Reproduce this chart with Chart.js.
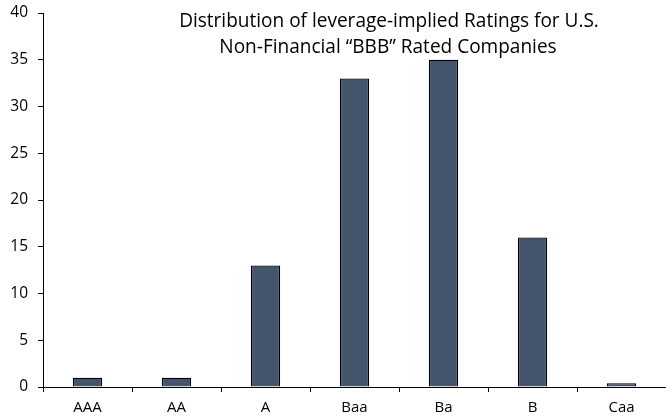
<!DOCTYPE html>
<html>
<head>
<meta charset="utf-8">
<script src="https://cdn.jsdelivr.net/npm/chart.js@4/dist/chart.umd.min.js"></script>
<style>
  html, body { margin: 0; padding: 0; background: #fff; }
  #wrap { position: relative; width: 666px; height: 420px; }
</style>
</head>
<body>
<div id="wrap"><canvas id="ratings"></canvas></div>
<script>
/**
 * Data
 */
const ratings = ['AAA', 'AA', 'A', 'Baa', 'Ba', 'B', 'Caa'];
const companyCounts = [1, 1, 13, 33, 35, 16, 0.4];
const titleLines = [
  'Distribution of leverage-implied Ratings for U.S.',
  'Non-Financial \u201cBBB\u201d Rated Companies',
];

const fontFamily = '"Open Sans", sans-serif';

/**
 * Title drawn inside the plot area
 */
const innerTitle = {
  id: 'innerTitle',
  afterDraw(chart) {
    const ctx = chart.ctx;
    ctx.save();
    // Size the title so the first line spans about 420px
    ctx.font = '20px ' + fontFamily;
    const size = (20 * 420) / ctx.measureText(titleLines[0]).width;
    ctx.font = size.toFixed(2) + 'px ' + fontFamily;
    ctx.fillStyle = '#000';
    ctx.textAlign = 'center';
    ctx.textBaseline = 'alphabetic';
    ctx.fillText(titleLines[0], 389, 26.5);
    ctx.fillText(titleLines[1], 388, 52.5);
    ctx.restore();
  },
};

/**
 * Chart
 */
function createBarChart({ selector, labels, data }) {
  const ctx = document.getElementById(selector).getContext('2d');
  return new Chart(ctx, {
    type: 'bar',
    data: {
      labels: labels,
      datasets: [
        {
          data: data,
          backgroundColor: '#44546a',
          borderColor: '#000',
          borderWidth: 1.3,
          borderSkipped: 'bottom',
          categoryPercentage: 1,
          barPercentage: 0.33,
        },
      ],
    },
    options: {
      responsive: true,
      maintainAspectRatio: false,
      animation: false,
      layout: { padding: { top: 13, right: -2, left: 0, bottom: 0 } },
      plugins: {
        legend: { display: false },
        tooltip: { enabled: false },
      },
      scales: {
        x: {
          offset: true,
          border: { color: '#000', width: 1 },
          grid: {
            offset: true,
            drawOnChartArea: false,
            drawTicks: true,
            tickLength: 5,
            color: '#000',
          },
          ticks: {
            color: '#000',
            padding: 7,
            font: { family: fontFamily, size: 15 },
            maxRotation: 0,
          },
          afterFit: (scale) => { scale.height = 33; },
        },
        y: {
          min: 0,
          max: 40,
          border: { color: '#000', width: 1 },
          grid: {
            drawOnChartArea: false,
            drawTicks: true,
            tickLength: 5,
            color: '#000',
          },
          ticks: {
            stepSize: 5,
            color: '#000',
            padding: 10,
            font: { family: fontFamily, size: 15.5 },
          },
          afterFit: (scale) => {
            scale.width = 43;
            // Let the layout padding alone decide where the plot starts
            scale.paddingTop = 0;
            scale.paddingBottom = 0;
          },
        },
      },
    },
    plugins: [innerTitle],
  });
}

createBarChart({ selector: 'ratings', labels: ratings, data: companyCounts });
</script>
</body>
</html>
